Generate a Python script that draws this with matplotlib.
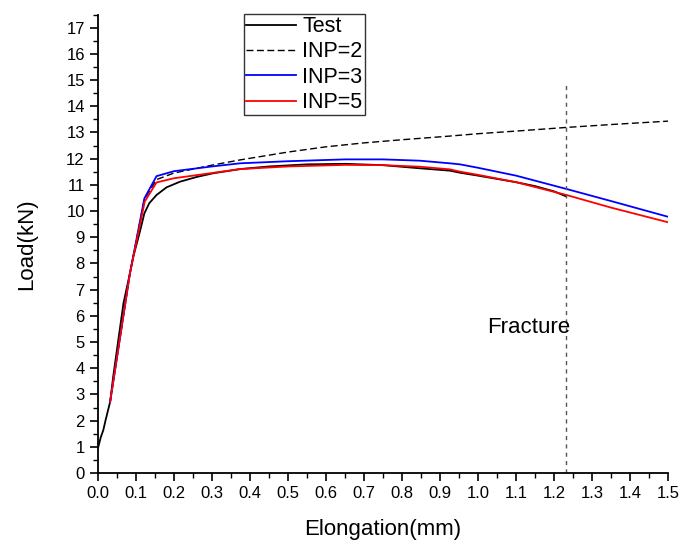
import matplotlib
matplotlib.use("Agg")
import matplotlib.pyplot as plt
from matplotlib.ticker import MultipleLocator, FormatStrFormatter

plt.rcParams['font.family'] = ['Liberation Sans', 'DejaVu Sans']

# Measured load-elongation curve
test_x = [0.0, 0.007, 0.014, 0.02, 0.032, 0.04, 0.067, 0.084, 0.093, 0.11, 0.122,
          0.135, 0.154, 0.18, 0.216, 0.26, 0.303, 0.374, 0.45, 0.55, 0.65, 0.75,
          0.847, 0.926, 0.953, 1.0, 1.1, 1.15, 1.2, 1.23]
test_y = [0.95, 1.35, 1.64, 2.02, 2.72, 3.68, 6.48, 7.62, 8.26, 9.2, 9.91,
          10.3, 10.61, 10.9, 11.12, 11.3, 11.44, 11.6, 11.7, 11.78, 11.8, 11.75,
          11.63, 11.54, 11.46, 11.35, 11.1, 10.95, 10.75, 10.57]

# Simulated curves
inp2_x = [0.032, 0.084, 0.122, 0.154, 0.2, 0.3, 0.374, 0.5, 0.6, 0.7, 0.8,
          0.926, 1.0, 1.1, 1.233, 1.35, 1.5]
inp2_y = [2.72, 7.62, 10.45, 11.2, 11.45, 11.75, 11.95, 12.25, 12.45, 12.6, 12.72,
          12.86, 12.95, 13.05, 13.19, 13.3, 13.43]

inp3_x = [0.032, 0.084, 0.122, 0.154, 0.2, 0.3, 0.374, 0.5, 0.65, 0.75, 0.847,
          0.926, 0.953, 1.0, 1.1, 1.233, 1.35, 1.5]
inp3_y = [2.72, 7.62, 10.48, 11.33, 11.52, 11.7, 11.82, 11.9, 11.97, 11.97, 11.92,
          11.82, 11.78, 11.65, 11.35, 10.84, 10.38, 9.78]

inp5_x = [0.032, 0.084, 0.123, 0.154, 0.2, 0.3, 0.374, 0.5, 0.65, 0.75, 0.847,
          0.926, 0.953, 1.0, 1.1, 1.233, 1.35, 1.5]
inp5_y = [2.72, 7.62, 10.36, 11.09, 11.25, 11.45, 11.6, 11.7, 11.76, 11.75, 11.69,
          11.59, 11.5, 11.38, 11.1, 10.61, 10.13, 9.57]

fracture_x = 1.232
fracture_top = 14.9

fig = plt.figure(figsize=(6.8, 5.4), dpi=100)
ax = fig.add_axes([98 / 680, 67 / 540, 570 / 680, 458.5 / 540])

ax.plot(test_x, test_y, color='black', lw=1.3, label='Test')
ax.plot(inp2_x, inp2_y, color='black', lw=1.0, ls=(0, (5, 2.5)), label='INP=2')
ax.plot(inp3_x, inp3_y, color='#0000ff', lw=1.3, label='INP=3')
ax.plot(inp5_x, inp5_y, color='#ff0000', lw=1.3, label='INP=5')

ax.plot([fracture_x, fracture_x], [0, fracture_top], color='#555555', lw=1.0,
        ls=(0, (3, 3)))
ax.text(fracture_x + 0.01, 5.55, 'Fracture', fontsize=16, ha='right', va='center')

ax.set_xlim(0, 1.5)
ax.set_ylim(0, 17.5)
ax.xaxis.set_major_locator(MultipleLocator(0.1))
ax.xaxis.set_minor_locator(MultipleLocator(0.05))
ax.yaxis.set_major_locator(MultipleLocator(1))
ax.yaxis.set_minor_locator(MultipleLocator(0.5))
ax.xaxis.set_major_formatter(FormatStrFormatter('%.1f'))

for side in ('top', 'right'):
    ax.spines[side].set_visible(False)
for side in ('left', 'bottom'):
    ax.spines[side].set_linewidth(1.3)

ax.tick_params(which='major', direction='out', length=6, width=1.2, labelsize=12)
ax.tick_params(which='minor', direction='out', length=3.5, width=1.0)

ax.set_xlabel('Elongation(mm)', fontsize=16, labelpad=13)
ax.set_ylabel('Load(kN)', fontsize=16, labelpad=21)

leg = ax.legend(loc='upper left', bbox_to_anchor=(244 / 680, 1 - 14 / 540),
                bbox_transform=fig.transFigure, borderaxespad=0, fontsize=15.5,
                frameon=True, fancybox=False, handlelength=2.3,
                handletextpad=0.3, labelspacing=0.2, borderpad=0.1)
leg.get_frame().set_edgecolor('black')
leg.get_frame().set_linewidth(1.0)

fig.savefig('out.png', dpi=100)
